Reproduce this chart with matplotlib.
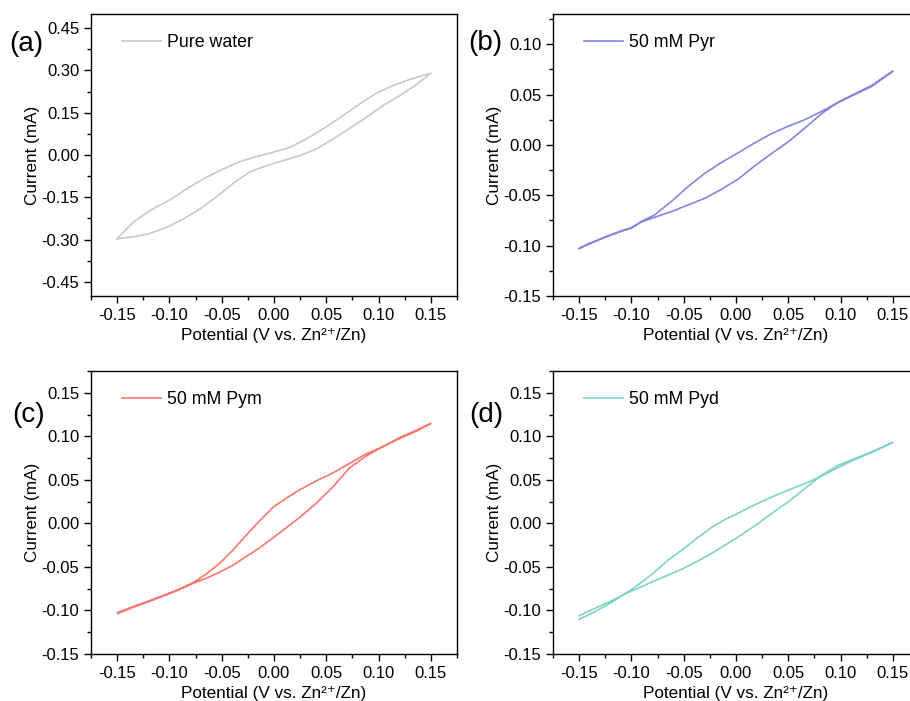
import matplotlib.pyplot as plt
from matplotlib.ticker import MultipleLocator, FormatStrFormatter

plt.rcParams['font.family'] = ['Liberation Sans', 'DejaVu Sans']

# (a) pure water: forward branch (upper) and reverse branch (lower)
a_fwd_x = [-0.15, -0.135, -0.119, -0.0999, -0.0839, -0.0648, -0.0488, -0.0328, -0.0169, -0.0009,
           0.0151, 0.0310, 0.0470, 0.0661, 0.0820, 0.0980, 0.1140, 0.1299, 0.1427, 0.15]
a_fwd_y = [-0.2965, -0.2396, -0.1980, -0.1601, -0.1210, -0.0794, -0.0498, -0.0237, -0.0059, 0.0095,
           0.0273, 0.0569, 0.0925, 0.1399, 0.1814, 0.2194, 0.2466, 0.2680, 0.2822, 0.2905]
a_rev_x = [0.15, 0.1364, 0.1204, 0.1044, 0.0884, 0.0725, 0.0565, 0.0406, 0.0246, 0.0086,
           -0.0073, -0.0233, -0.0392, -0.0552, -0.0712, -0.0871, -0.1031, -0.119, -0.135, -0.15]
a_rev_y = [0.2905, 0.2502, 0.2111, 0.1755, 0.1340, 0.0949, 0.0569, 0.0213, -0.0024, -0.0202,
           -0.0379, -0.0600, -0.1010, -0.1490, -0.1921, -0.2277, -0.2573, -0.2787, -0.2906, -0.2965]

# (b) 50 mM Pyr
b_fwd_x = [-0.15, -0.142, -0.126, -0.110, -0.100, -0.0908, -0.0780, -0.0621, -0.0461, -0.0301, -0.0141,
           0.0019, 0.0179, 0.0339, 0.0499, 0.0659, 0.0818, 0.0978, 0.1138, 0.1298, 0.15]
b_fwd_y = [-0.1026, -0.0987, -0.0917, -0.0855, -0.0822, -0.0762, -0.0696, -0.0564, -0.0416, -0.0284, -0.0175,
           -0.0079, 0.0020, 0.0112, 0.0185, 0.0251, 0.0333, 0.0422, 0.0502, 0.0581, 0.0733]
b_rev_x = [0.15, 0.1298, 0.1138, 0.0978, 0.0818, 0.0659, 0.0499, 0.0339, 0.0179, 0.0019,
           -0.0141, -0.0301, -0.0461, -0.0621, -0.0780, -0.0908, -0.100, -0.110, -0.126, -0.142, -0.15]
b_rev_y = [0.0733, 0.0591, 0.0508, 0.0426, 0.0310, 0.0168, 0.0030, -0.0086, -0.0208, -0.0340,
           -0.0442, -0.0531, -0.0597, -0.0663, -0.0719, -0.0766, -0.0826, -0.0858, -0.0920, -0.0989, -0.1030]

# (c) 50 mM Pym
c_fwd_x = [-0.1494, -0.135, -0.119, -0.1031, -0.0903, -0.0775, -0.0648, -0.0520, -0.0392, -0.0265, -0.0137,
           -0.0009, 0.0118, 0.0246, 0.0406, 0.0565, 0.0725, 0.0884, 0.1012, 0.1204, 0.1363, 0.15]
c_fwd_y = [-0.1022, -0.0957, -0.0888, -0.0815, -0.0754, -0.0681, -0.0582, -0.0459, -0.0306, -0.0134, 0.0030,
           0.0185, 0.0290, 0.0385, 0.0490, 0.0580, 0.0690, 0.0800, 0.0865, 0.0976, 0.1060, 0.1148]
c_rev_x = [0.15, 0.1363, 0.1204, 0.1012, 0.0884, 0.0725, 0.0565, 0.0406, 0.0246, 0.0118, -0.0009,
           -0.0137, -0.0265, -0.0392, -0.0520, -0.0648, -0.0775, -0.0903, -0.1031, -0.119, -0.135, -0.1494]
c_rev_y = [0.1148, 0.1071, 0.0987, 0.0862, 0.0775, 0.0640, 0.0421, 0.0233, 0.0069, -0.0050, -0.0165,
           -0.0280, -0.0380, -0.0480, -0.0560, -0.0630, -0.0689, -0.0760, -0.0822, -0.0895, -0.0965, -0.1035]

# (d) 50 mM Pyd
d_fwd_x = [-0.15, -0.135, -0.119, -0.1031, -0.0903, -0.0775, -0.0648, -0.0501, -0.0361, -0.0233, -0.0105,
           0.0, 0.0182, 0.0342, 0.0501, 0.0661, 0.0820, 0.0980, 0.1140, 0.1299, 0.15]
d_fwd_y = [-0.1102, -0.1014, -0.0907, -0.0785, -0.0677, -0.0555, -0.0421, -0.0291, -0.0160, -0.0045, 0.0045,
           0.0105, 0.0215, 0.0303, 0.0383, 0.0459, 0.0543, 0.0643, 0.0735, 0.0815, 0.0930]
d_rev_x = [0.15, 0.1299, 0.1140, 0.0980, 0.0820, 0.0661, 0.0501, 0.0342, 0.0182, 0.0,
           -0.0105, -0.0233, -0.0361, -0.0501, -0.0648, -0.0775, -0.0903, -0.1031, -0.119, -0.135, -0.15]
d_rev_y = [0.0930, 0.0823, 0.0746, 0.0670, 0.0555, 0.0402, 0.0249, 0.0115, -0.0027, -0.0172,
           -0.0249, -0.0344, -0.0429, -0.0517, -0.0593, -0.0658, -0.0727, -0.0792, -0.0888, -0.0976, -0.1060]

labels = ['Pure water', '50 mM Pyr', '50 mM Pym', '50 mM Pyd']
tags = ['(a)', '(b)', '(c)', '(d)']
colors = ['#c8c8c8', '#8585dc', '#f8786c', '#7fd3c8']
xs = [a_fwd_x + a_rev_x, b_fwd_x + b_rev_x, c_fwd_x + c_rev_x, d_fwd_x + d_rev_x]
ys = [a_fwd_y + a_rev_y, b_fwd_y + b_rev_y, c_fwd_y + c_rev_y, d_fwd_y + d_rev_y]

ylims = [(-0.5, 0.5), (-0.15, 0.13), (-0.15, 0.175), (-0.15, 0.175)]
ymajor = [0.15, 0.05, 0.05, 0.05]

W, H = 910, 701
fig = plt.figure(figsize=(W / 100, H / 100), dpi=100)

# axes boxes in pixels: left, top, right, bottom (right column runs past the edge)
boxes = [(91, 14, 457, 296), (553, 14, 919, 296),
         (91, 371, 457, 654), (553, 371, 919, 654)]
# panel letter positions (pixels, left edge / vertical centre)
tag_pos = [(9, 44), (468, 43), (12, 415), (469, 415)]

for i in range(4):
    l, t, r, b = boxes[i]
    ax = fig.add_axes([l / W, 1 - b / H, (r - l) / W, (b - t) / H])
    ax.plot(xs[i], ys[i], color=colors[i], lw=1.2, label=labels[i])

    ax.set_xlim(-0.175, 0.175)
    ax.set_ylim(*ylims[i])
    ax.xaxis.set_major_locator(MultipleLocator(0.05))
    ax.xaxis.set_minor_locator(MultipleLocator(0.025))
    ax.yaxis.set_major_locator(MultipleLocator(ymajor[i]))
    ax.yaxis.set_minor_locator(MultipleLocator(ymajor[i] / 2))
    ax.xaxis.set_major_formatter(FormatStrFormatter('%.2f'))
    ax.yaxis.set_major_formatter(FormatStrFormatter('%.2f'))
    ax.tick_params(which='major', direction='out', length=5, width=1, labelsize=12, pad=3.5)
    ax.tick_params(which='minor', direction='out', length=3, width=1)
    for s in ax.spines.values():
        s.set_linewidth(1.0)

    ax.set_xlabel('Potential (V vs. Zn\u00b2\u207a/Zn)', fontsize=12.3, labelpad=4)
    ax.set_ylabel('Current (mA)', fontsize=12.3, labelpad=1)

    ax.legend(loc='upper left', frameon=False, fontsize=12.8, handlelength=2.2,
              handletextpad=0.35, borderaxespad=0.0, bbox_to_anchor=(0.065, 0.955))

    tx, ty = tag_pos[i]
    fig.text(tx / W, 1 - ty / H, tags[i], fontsize=20, ha='left', va='center')

fig.savefig('out.png', dpi=100)
